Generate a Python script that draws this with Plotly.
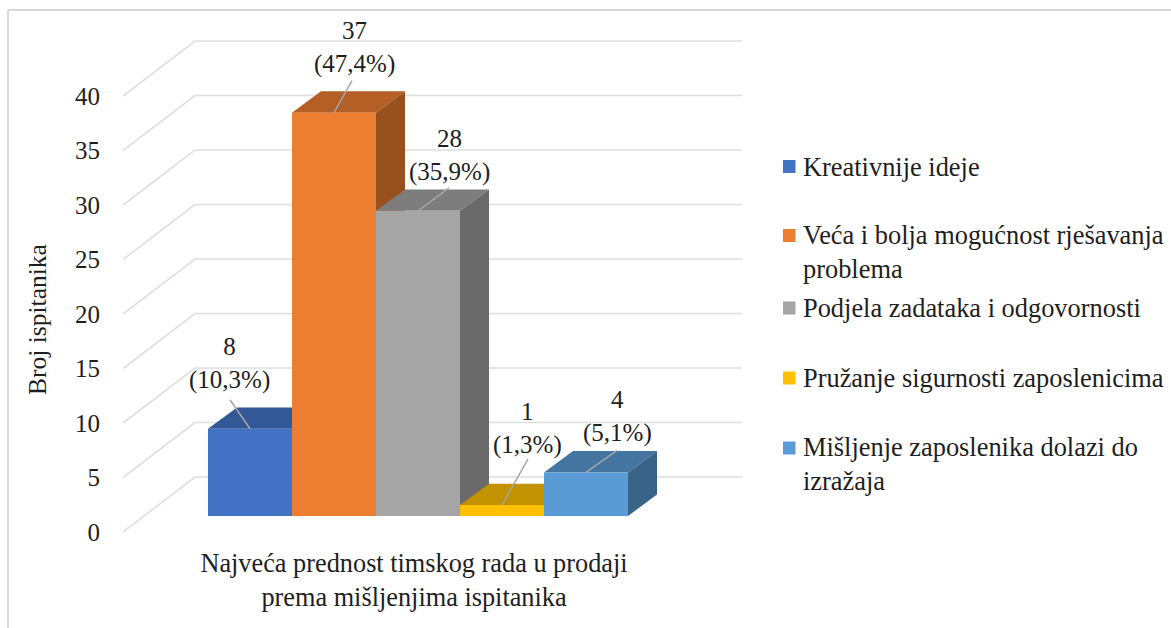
import plotly.graph_objects as go

# ---- data ----
categories = ["Kreativnije ideje",
              "Veća i bolja mogućnost rješavanja<br>problema",
              "Podjela zadataka i odgovornosti",
              "Pružanje sigurnosti zaposlenicima",
              "Mišljenje zaposlenika dolazi do<br>izražaja"]
values = [8, 37, 28, 1, 4]
percents = ["10,3%", "47,4%", "35,9%", "1,3%", "5,1%"]
colors = ["#4472C4", "#ED7D31", "#A5A5A5", "#FFC000", "#5B9BD5"]
y_ticks = [0, 5, 10, 15, 20, 25, 30, 35, 40]
x_label = "Najveća prednost timskog rada u prodaji<br>prema mišljenjima ispitanika"
y_label = "Broj ispitanika"

# ---- layout constants (pixels of the 1171x628 page) ----
W, H = 1171, 628
L, R, T, B = 123, 747, 30, 532
PX_X = 84.0            # pixels per bar slot
PX_Y = 10.9            # pixels per value unit
X0 = 250.0             # pixel centre of the first bar
x_range = [(L - X0) / PX_X, (R - X0) / PX_X]
y_range = [0, (B - T) / PX_Y]

WALL_DX = 72 / PX_X    # oblique depth of the whole chart box
WALL_DY = 55 / PX_Y
WALL_END = (742 - X0) / PX_X
BAR_BASE = 16 / PX_Y   # the bars stand in front of the wall
BAR_DX = 29 / PX_X     # depth of the bars
BAR_DY = 21.4 / PX_Y
TOP_SHADE, SIDE_SHADE = 0.76, 0.64


def px(x):
    return (x - L) / (R - L)


def py(y):
    return (B - y) / (B - T)


def shade(hex_color, f):
    r, g, b = (int(hex_color[i:i + 2], 16) for i in (1, 3, 5))
    return f"rgb({round(r * f)},{round(g * f)},{round(b * f)})"


fig = go.Figure()

# wall grid lines: from the front corner, back along the side wall, then across the back wall
gx, gy = [], []
for t in y_ticks:
    gx += [x_range[0], x_range[0] + WALL_DX, WALL_END, None]
    gy += [t, t + WALL_DY, t + WALL_DY, None]
fig.add_trace(go.Scatter(x=gx, y=gy, mode="lines", line=dict(color="#DEDEDE", width=1.6),
                         showlegend=False, hoverinfo="skip", cliponaxis=False))


def face(xs, ys, color, name, hover=False):
    fig.add_trace(go.Scatter(x=xs, y=ys, mode="lines", fill="toself", fillcolor=color,
                             line=dict(width=0, color=color), name=name, showlegend=False,
                             hoverinfo="name" if hover else "skip"))


# bars, painted left to right so that each one covers the previous one
for i, (v, c, name) in enumerate(zip(values, colors, categories)):
    l, r = i - 0.5, i + 0.5
    b, t = BAR_BASE, BAR_BASE + v
    face([l, l + BAR_DX, r + BAR_DX, r, l],
         [t, t + BAR_DY, t + BAR_DY, t, t], shade(c, TOP_SHADE), name)
    face([r, r + BAR_DX, r + BAR_DX, r, r],
         [b, b + BAR_DY, t + BAR_DY, t, b], shade(c, SIDE_SHADE), name)
    face([l, r, r, l, l], [b, b, t, t, b], c, name, hover=True)

FONT = dict(family="Liberation Serif", size=25, color="#1E1E1E")
LEGEND_FONT = dict(FONT, size=26.4)
TITLE_FONT = dict(FONT, size=26.3)

# data labels: text offset and leader-line end, in pixels from the bar's top edge
label_offsets = [(-21, -65), (20, -65), (31, -55), (25, -77), (31, -56)]
leader_ends = [(-20, -29), (18, -32), (31, -23), (26, -46), (31, -22)]
annotations = []
for i, (v, p, (ax, ay), (lx, ly)) in enumerate(zip(values, percents, label_offsets, leader_ends)):
    top = BAR_BASE + v
    fig.add_trace(go.Scatter(x=[i, i + lx / PX_X], y=[top, top - ly / PX_Y], mode="lines",
                             line=dict(color="#A6A6A6", width=1.5),
                             showlegend=False, hoverinfo="skip", cliponaxis=False))
    annotations.append(dict(x=i, y=top, xref="x", yref="y", xshift=ax, yshift=-ay,
                            text=f"{v}<br>({p})", showarrow=False, font=FONT, align="center"))

# value-axis title
annotations.append(dict(x=px(38), y=py(320), xref="paper", yref="paper", text=y_label, textangle=-90,
                        xanchor="center", yanchor="middle",
                        showarrow=False, font=dict(FONT, size=25.5)))

# legend
legend_y = [166.5, 251.5, 308, 378, 464]
shapes = []
for name, c, y in zip(categories, colors, legend_y):
    first_line_y = y - 16 if "<br>" in name else y
    shapes.append(dict(type="rect", xref="paper", yref="paper", line=dict(width=0), fillcolor=c,
                       x0=px(783), x1=px(795.5), y0=py(first_line_y - 6.5), y1=py(first_line_y + 6.5)))
    annotations.append(dict(x=px(800.5), y=py(y), xref="paper", yref="paper", text=name, showarrow=False,
                            xanchor="left", yanchor="middle", align="left", font=LEGEND_FONT))

# frame of the chart area (top and left edges are visible)
for x0, y0, x1, y1 in [(8, 10, W, 10), (8, 10, 8, H)]:
    shapes.append(dict(type="line", xref="paper", yref="paper", x0=px(x0), y0=py(y0), x1=px(x1), y1=py(y1),
                       line=dict(color="#D9D9D9", width=2)))

fig.update_layout(
    width=W, height=H, autosize=False,
    margin=dict(l=L, r=W - R, t=T, b=H - B),
    paper_bgcolor="white", plot_bgcolor="white",
    showlegend=False, font=FONT,
    annotations=annotations, shapes=shapes,
    xaxis=dict(range=x_range, showgrid=False, zeroline=False, showline=False, ticks="",
               tickvals=[(414 - X0) / PX_X], ticktext=[x_label], tickfont=TITLE_FONT,
               ticklabelstandoff=13, automargin=False, tickangle=0),
    yaxis=dict(range=y_range, showgrid=False, zeroline=False, showline=False, ticks="",
               tickvals=y_ticks, tickfont=FONT, ticklabelstandoff=22, automargin=False),
)
fig.write_html("out.html", config=dict(displayModeBar=False),
               post_script="document.body.style.margin='0';")
